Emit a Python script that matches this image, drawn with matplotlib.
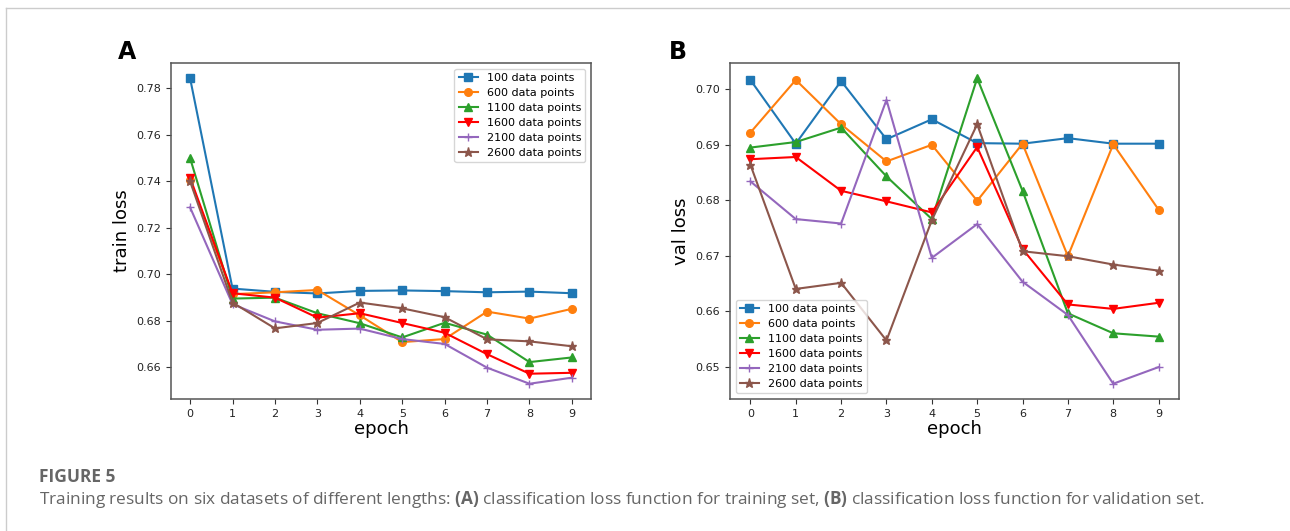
import matplotlib
matplotlib.use('Agg')
import matplotlib.pyplot as plt
from matplotlib.lines import Line2D

# ==========================================================================================
# DADOS
# ==========================================================================================

epochs = list(range(10))
series_labels = ['100 data points', '600 data points', '1100 data points',
                 '1600 data points', '2100 data points', '2600 data points']

train_100  = [0.7843, 0.6939, 0.6925, 0.6918, 0.6929, 0.6931, 0.6928, 0.6923, 0.6926, 0.6919]
train_600  = [0.7405, 0.6915, 0.6923, 0.6933, 0.6824, 0.6709, 0.6722, 0.6840, 0.6810, 0.6852]
train_1100 = [0.7500, 0.6896, 0.6900, 0.6833, 0.6790, 0.6729, 0.6792, 0.6741, 0.6623, 0.6643]
train_1600 = [0.7415, 0.6919, 0.6900, 0.6814, 0.6833, 0.6791, 0.6749, 0.6657, 0.6573, 0.6577]
train_2100 = [0.7288, 0.6872, 0.6798, 0.6762, 0.6767, 0.6722, 0.6701, 0.6599, 0.6530, 0.6556]
train_2600 = [0.7400, 0.6879, 0.6768, 0.6791, 0.6879, 0.6854, 0.6816, 0.6721, 0.6712, 0.6691]

val_100  = [0.7017, 0.6902, 0.7015, 0.6910, 0.6946, 0.6903, 0.6902, 0.6912, 0.6902, 0.6902]
val_600  = [0.6922, 0.7017, 0.6937, 0.6870, 0.6900, 0.6799, 0.6902, 0.6699, 0.6901, 0.6783]
val_1100 = [0.6895, 0.6905, 0.6931, 0.6843, 0.6766, 0.7020, 0.6817, 0.6596, 0.6560, 0.6554]
val_1600 = [0.6874, 0.6878, 0.6817, 0.6798, 0.6778, 0.6896, 0.6712, 0.6612, 0.6604, 0.6615]
val_2100 = [0.6834, 0.6766, 0.6758, 0.6981, 0.6696, 0.6757, 0.6653, 0.6593, 0.6469, 0.6499]
val_2600 = [0.6864, 0.6640, 0.6651, 0.6547, 0.6764, 0.6937, 0.6708, 0.6699, 0.6684, 0.6673]

train_all = [train_100, train_600, train_1100, train_1600, train_2100, train_2600]
val_all   = [val_100, val_600, val_1100, val_1600, val_2100, val_2600]

colors  = ['#1f77b4', '#ff7f0e', '#2ca02c', 'red', '#9467bd', '#8c564b']
markers = ['s', 'o', '^', 'v', '+', '*']

plt.rcParams['mathtext.fontset'] = 'custom'
plt.rcParams['mathtext.bf'] = 'Open Sans:bold'
plt.rcParams['mathtext.rm'] = 'Open Sans'

# ==========================================================================================
# FIGURA
# ==========================================================================================

fig = plt.figure(figsize=(12.9, 5.31), dpi=100)

# moldura do artigo (linhas cinza no topo e à esquerda)
fig.add_artist(Line2D([6/1290, 1], [1 - 8/531, 1 - 8/531], color='#cccccc', lw=1))
fig.add_artist(Line2D([6/1290, 6/1290], [0, 1 - 8/531], color='#cccccc', lw=1))

ax1 = fig.add_axes([171/1290, 1 - 399/531, 420/1290, 336/531])
ax2 = fig.add_axes([730/1290, 1 - 399/531, 449/1290, 336/531])


def draw_panel(ax, data, ylabel, legend_loc, letter, letter_x):
    for vals, lab, c, m in zip(data, series_labels, colors, markers):
        ms = 6.5 if m == '*' else 5.5
        ax.plot(epochs, vals, color=c, marker=m, markersize=ms, linewidth=1.5, label=lab)
    ax.set_xticks(epochs)
    ax.set_xlabel('epoch', fontsize=13, labelpad=1)
    ax.set_ylabel(ylabel, fontsize=13, labelpad=4)
    ax.tick_params(labelsize=8, color='#333333', labelcolor='#222222')
    for sp in ax.spines.values():
        sp.set_color('#555555')
        sp.set_linewidth(1.1)
    ax.legend(loc=legend_loc, fontsize=8, handlelength=1.7, labelspacing=0.45,
              borderpad=0.4, framealpha=0.8)
    fig.text(letter_x, 1 - 52/531, letter, fontsize=17, fontweight='bold',
             ha='center', va='center')


draw_panel(ax1, train_all, 'train loss', 'upper right', 'A', 127/1290)
draw_panel(ax2, val_all, 'val loss', 'lower left', 'B', 678/1290)

ax1.set_yticks([0.66, 0.68, 0.70, 0.72, 0.74, 0.76, 0.78])
ax2.set_yticks([0.65, 0.66, 0.67, 0.68, 0.69, 0.70])

# legenda da figura
fig.text(39/1290, 1 - 477/531, 'FIGURE 5', fontsize=12.5, fontweight='bold',
         color='#666666', family='Open Sans', va='center')
cap = ('Training results on six datasets of different lengths: $\\mathbf{(A)}$ '
       'classification loss function for training set, $\\mathbf{(B)}$ '
       'classification loss function for validation set.')
fig.text(39/1290, 1 - 500/531, cap, fontsize=12.4, color='#666666',
         family='Open Sans', va='center')

fig.savefig('out.png', dpi=100)
